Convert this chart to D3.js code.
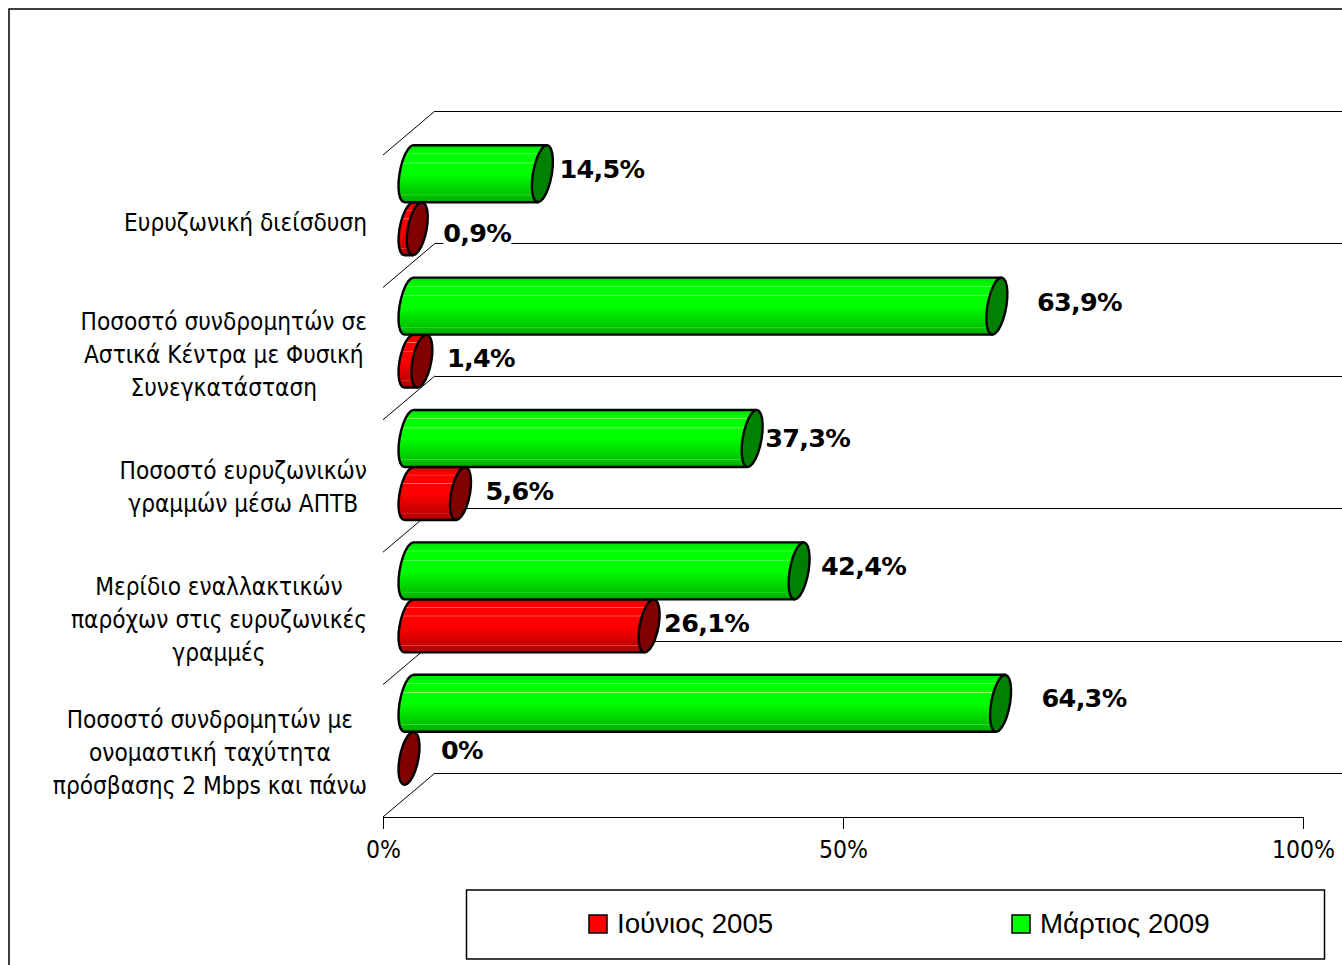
<!DOCTYPE html>
<html>
<head>
<meta charset="utf-8">
<style>
body { margin: 0; background: #fff; }
svg { display: block; }
</style>
<script src="https://cdnjs.cloudflare.com/ajax/libs/d3/7.8.5/d3.min.js"></script>
</head>
<body>
<div id="mainDiv"></div>
<script>
'use strict';

// data
var categories = ['broadband', 'urban', 'lines', 'share', 'speed'];
var categoryLines = [
    ['Ευρυζωνική διείσδυση'],
    ['Ποσοστό συνδρομητών σε', 'Αστικά Κέντρα με Φυσική', 'Συνεγκατάσταση'],
    ['Ποσοστό ευρυζωνικών', 'γραμμών μέσω ΑΠΤΒ'],
    ['Μερίδιο εναλλακτικών', 'παρόχων στις ευρυζωνικές', 'γραμμές'],
    ['Ποσοστό συνδρομητών με', 'ονομαστική ταχύτητα', 'πρόσβασης 2 Mbps και πάνω']
];
var june2005 = [0.9, 1.4, 5.6, 26.1, 0];
var march2009 = [14.5, 63.9, 37.3, 42.4, 64.3];
var tickValues = [0, 50, 100];
var legendNames = ['Ιούνιος 2005', 'Μάρτιος 2009'];

// layout
var w = 1342, h = 965;
var depthX = 52, depthY = 44;
var greenH = 57, redH = 53;
var capRx = 9.5, capShear = 4.5;
var barShift = -19;    // bars sit a bit above the band centre
// hand placed data labels, gap from the cap edge and shift from the bar centre
var greenLabelDx = [6, 29, 2, 11, 30];
var greenLabelDy = [-5, -4, -1, -5, -5];
var redLabelDx = [15, 14, 14, 4, 21];
var redLabelDy = [4, -3, -3, -3, -8];

var x = d3.scaleLinear().domain([0, 100]).range([383, 1303]);
var y = d3.scaleBand().domain(categories).range([155, 817]);

var svg = d3.select('#mainDiv').append('svg')
    .attr('width', w)
    .attr('height', h);

function addGradient(id, c) {
    var g = svg.append('defs').append('linearGradient')
        .attr('id', id)
        .attr('x1', 0).attr('y1', 0).attr('x2', 0).attr('y2', 1);
    var stops = [
        [0, c.top], [0.14, c.mid], [0.15, c.streak], [0.165, c.mid],
        [0.30, c.mid], [0.31, c.streak], [0.33, c.mid],
        [0.5, c.mid], [0.86, c.low], [0.87, c.streak2], [0.885, c.low], [1, c.bottom]
    ];
    stops.forEach(function(s) {
        g.append('stop').attr('offset', s[0]).attr('stop-color', s[1]);
    });
}
addGradient('gradGreen', {top: '#00e000', mid: '#00ff00', streak: '#7dff7d', low: '#00c400', streak2: '#40d840', bottom: '#00a800'});
addGradient('gradRed', {top: '#e00000', mid: '#ff0000', streak: '#ff7070', low: '#c40000', streak2: '#d84040', bottom: '#a80000'});

// chart frame
svg.append('path')
    .attr('d', 'M9,' + h + 'V9H' + w)
    .attr('fill', 'none')
    .attr('stroke', '#000')
    .attr('stroke-width', 1.5);

// walls
var wallLevels = categories.map(function(c) { return y(c); }).concat([y.range()[1]]);
var walls = svg.append('g').attr('class', 'walls');
walls.selectAll('line.back')
    .data(wallLevels)
    .enter().append('line')
    .attr('class', 'back')
    .attr('x1', x(0) + depthX)
    .attr('x2', w)
    .attr('y1', function(d) { return d - depthY + 0.5; })
    .attr('y2', function(d) { return d - depthY + 0.5; })
    .attr('stroke', '#000')
    .attr('shape-rendering', 'crispEdges');
walls.selectAll('line.side')
    .data(wallLevels)
    .enter().append('line')
    .attr('class', 'side')
    .attr('x1', x(0))
    .attr('x2', x(0) + depthX)
    .attr('y1', function(d) { return d; })
    .attr('y2', function(d) { return d - depthY; })
    .attr('stroke', '#000');

// axis
var axisGroup = svg.append('g')
    .attr('class', 'xAxis')
    .attr('transform', 'translate(0,' + y.range()[1] + ')')
    .call(d3.axisBottom(x)
        .tickValues(tickValues)
        .tickSize(12)
        .tickSizeOuter(12)
        .tickFormat(function(d) { return d + '%'; }));
axisGroup.selectAll('text')
    .attr('y', 19)
    .attr('dy', '0.9em')
    .style('font-family', '"DejaVu Sans"')
    .style('font-stretch', 'condensed')
    .style('font-size', '24.5px')
    .attr('fill', '#000');
axisGroup.selectAll('line, path').attr('stroke', '#000');

// points of a slanted cap, t in degrees
function capPoint(cx, cy, ry, t) {
    var a = t * Math.PI / 180;
    return [cx + capRx * Math.cos(a) - capShear * Math.sin(a), cy + ry * Math.sin(a)];
}

var line = d3.line();

function bodyPath(v, cy, ry) {
    var pts = [];
    for (var t = -90; t >= -270; t -= 15) {
        pts.push(capPoint(x(0) + depthX / 2, cy, ry, t));
    }
    pts.push(capPoint(x(v) + depthX / 2, cy, ry, 90));
    pts.push(capPoint(x(v) + depthX / 2, cy, ry, -90));
    return line(pts) + 'Z';
}

function capPath(v, cy, ry) {
    var pts = [];
    for (var t = 0; t < 360; t += 15) {
        pts.push(capPoint(x(v) + depthX / 2, cy, ry, t));
    }
    return line(pts) + 'Z';
}

function barCentre(i) {
    return y(categories[i]) + y.bandwidth() / 2 + barShift;
}

function drawBars(values, ry, offset, grad, capColor, cls) {
    var bars = svg.append('g').attr('class', cls);
    bars.selectAll('path.body')
        .data(values)
        .enter().append('path')
        .attr('class', 'body')
        .attr('d', function(d, i) { return d > 0 ? bodyPath(d, barCentre(i) + offset, ry) : null; })
        .attr('fill', 'url(#' + grad + ')')
        .attr('stroke', '#000')
        .attr('stroke-width', 2.4)
        .attr('stroke-linejoin', 'round');
    bars.selectAll('path.cap')
        .data(values)
        .enter().append('path')
        .attr('class', 'cap')
        .attr('d', function(d, i) { return capPath(d, barCentre(i) + offset, ry); })
        .attr('fill', capColor)
        .attr('stroke', '#000')
        .attr('stroke-width', 2.4)
        .attr('stroke-linejoin', 'round');
}

drawBars(june2005, redH / 2, redH / 2, 'gradRed', '#800000', 'june');
drawBars(march2009, greenH / 2, -greenH / 2, 'gradGreen', '#008000', 'march');

// data labels
function drawLabels(values, centreOffset, dxs, dys) {
    values.forEach(function(v, i) {
        var g = svg.append('g').attr('class', 'label');
        var t = g.append('text')
            .attr('x', x(v) + depthX / 2 + 11 + dxs[i])
            .attr('y', barCentre(i) + centreOffset + dys[i])
            .attr('dy', '0.36em')
            .style('font-family', '"DejaVu Sans"')
            .style('font-weight', 'bold')
            .style('font-size', '25.5px')
            .style('letter-spacing', '-0.7px')
            .attr('fill', '#000')
            .text(String(v).replace('.', ',') + '%');
        var b = t.node().getBBox();
        g.insert('rect', 'text')
            .attr('x', b.x)
            .attr('y', b.y + 3)
            .attr('width', b.width)
            .attr('height', b.height - 6)
            .attr('fill', '#fff');
    });
}
drawLabels(march2009, -greenH / 2, greenLabelDx, greenLabelDy);
drawLabels(june2005, redH / 2, redLabelDx, redLabelDy);

// category labels, lines centred in a block that ends at x = 367
categoryLines.forEach(function(lines, i) {
    var mid = y(categories[i]) + y.bandwidth() / 2;
    var g = svg.append('g').attr('class', 'cat');
    var texts = g.selectAll('text')
        .data(lines)
        .enter().append('text')
        .attr('y', function(d, k) { return mid + 1 + (k - (lines.length - 1) / 2) * 33; })
        .attr('dy', '0.36em')
        .attr('text-anchor', 'middle')
        .style('font-family', '"DejaVu Sans"')
        .style('font-stretch', 'condensed')
        .style('font-size', '24.2px')
        .attr('fill', '#000')
        .text(function(d) { return d; });
    var widest = d3.max(texts.nodes(), function(n) { return n.getComputedTextLength(); });
    texts.attr('x', 367 - widest / 2);
});

// legend
var legend = svg.append('g').attr('class', 'legend');
legend.append('rect')
    .attr('x', 466.5).attr('y', 890)
    .attr('width', 858).attr('height', 69)
    .attr('fill', '#fff')
    .attr('stroke', '#000')
    .attr('stroke-width', 1.5);
var legendX = [589, 1012];
var legendColors = ['#ff0000', '#00ff00'];
legendNames.forEach(function(name, i) {
    legend.append('rect')
        .attr('x', legendX[i]).attr('y', 915)
        .attr('width', 18).attr('height', 18)
        .attr('fill', legendColors[i])
        .attr('stroke', '#000')
        .attr('stroke-width', 1.5);
    legend.append('text')
        .attr('x', legendX[i] + 28)
        .attr('y', 933)
        .style('font-family', '"Liberation Sans"')
        .style('font-size', '27.7px')
        .attr('fill', '#000')
        .text(name);
});
</script>
</body>
</html>
